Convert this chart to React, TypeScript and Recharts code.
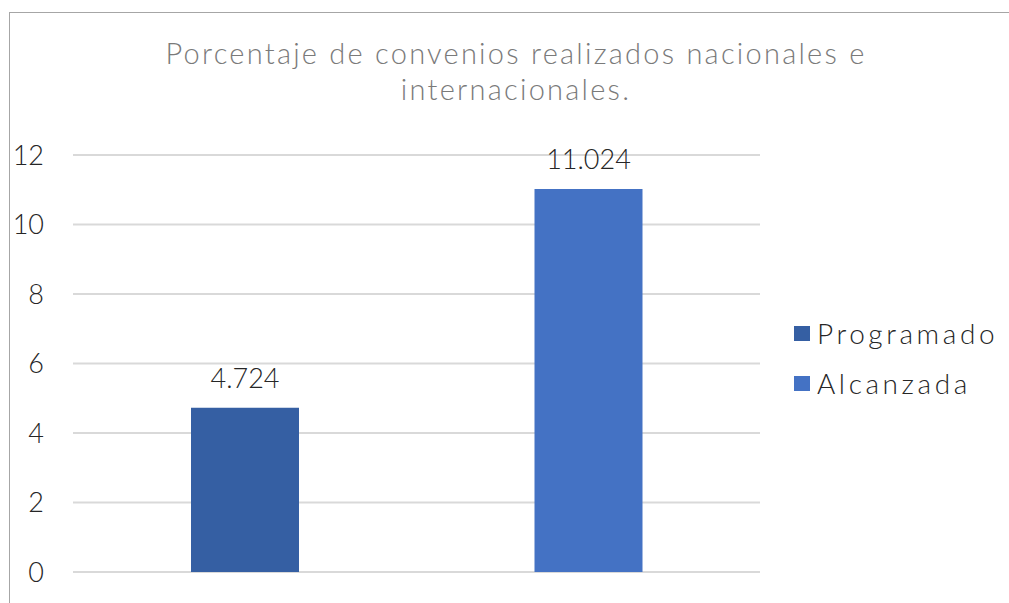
import React from 'react';
import { BarChart, Bar, XAxis, YAxis, CartesianGrid, Legend, LabelList } from 'recharts';

const categories = ['Programado', 'Alcanzada'];
const programadoValues = [4.724, null];
const alcanzadaValues = [null, 11.024];
const yTicks = [0, 2, 4, 6, 8, 10, 12];
const titleLines = ['Porcentaje de convenios realizados nacionales e', 'internacionales.'];

const data = categories.map((c, i) => ({
  name: c,
  Programado: programadoValues[i],
  Alcanzada: alcanzadaValues[i],
}));

const FONT = "Lato, 'Open Sans', sans-serif";

const renderLegend = (props: any) => {
  const payload = [...(props.payload || [])].sort(
    (a: any, b: any) => categories.indexOf(a.value) - categories.indexOf(b.value)
  );
  return (
    <div style={{ fontFamily: FONT, fontWeight: 300 }}>
      {payload.map((p: any) => (
        <div key={p.value} style={{ display: 'flex', alignItems: 'center', height: 50 }}>
          <div style={{ width: 16, height: 15, background: p.color, marginRight: 7 }} />
          <span style={{ fontSize: 28, color: '#262626', letterSpacing: 3.6 }}>{p.value}</span>
        </div>
      ))}
    </div>
  );
};

const fmt = (v: any) => (v == null ? '' : Number(v).toFixed(3));

export default function App() {
  return (
    <div style={{ position: 'absolute', left: 0, top: 0, width: 1009, height: 603, background: '#fff', overflow: 'hidden' }}>
      <div style={{ position: 'absolute', left: 9, top: 12, width: 1100, height: 700, borderLeft: '1px solid #a6a6a6', borderTop: '1px solid #a6a6a6' }} />
      <div style={{ position: 'absolute', left: 0, top: 35, width: 1032, textAlign: 'center', fontFamily: FONT, fontWeight: 300, fontSize: 29, lineHeight: '36px', color: '#7a7a7a', letterSpacing: 2.25 }}>
        {titleLines.map((t) => (
          <div key={t}>{t}</div>
        ))}
      </div>
      <BarChart width={1009} height={603} data={data} margin={{ top: 155, right: 34, bottom: 31, left: 0 }} style={{ position: 'absolute', left: 0, top: 0 }}>
        <CartesianGrid vertical={false} stroke="#d9d9d9" strokeWidth={2} />
        <XAxis dataKey="name" hide />
        <YAxis
          width={73}
          domain={[0, 12]}
          ticks={yTicks}
          axisLine={false}
          tickLine={false}
          tickSize={6}
          tickMargin={23}
          tick={{ fontSize: 27, fill: '#262626', fontFamily: FONT, fontWeight: 300 }}
        />
        <Legend
          layout="vertical"
          align="right"
          verticalAlign="top"
          content={renderLegend}
          wrapperStyle={{ left: 794, top: 308, width: 215 }}
        />
        <Bar dataKey="Programado" name="Programado" stackId="a" fill="#355fa3" barSize={108} isAnimationActive={false}>
          <LabelList dataKey="Programado" position="top" offset={20} formatter={fmt} style={{ fontSize: 27, fill: '#262626', fontFamily: FONT, fontWeight: 300 }} />
        </Bar>
        <Bar dataKey="Alcanzada" name="Alcanzada" stackId="a" fill="#4472c4" barSize={108} isAnimationActive={false}>
          <LabelList dataKey="Alcanzada" position="top" offset={20} formatter={fmt} style={{ fontSize: 27, fill: '#262626', fontFamily: FONT, fontWeight: 300 }} />
        </Bar>
      </BarChart>
    </div>
  );
}
